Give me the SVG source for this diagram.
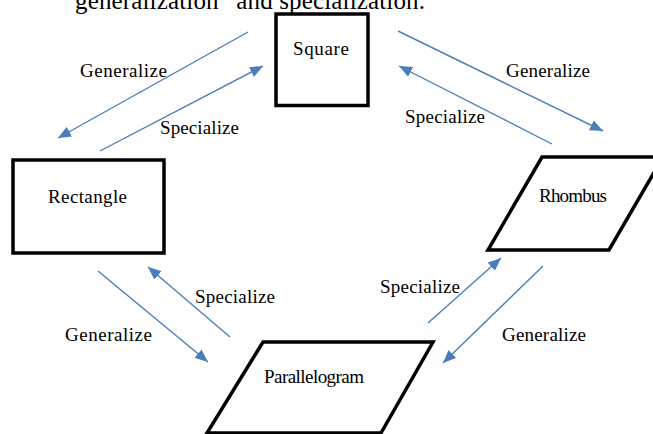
<svg xmlns="http://www.w3.org/2000/svg" width="653" height="434" viewBox="0 0 653 434">
<style>
.node{fill:#fff;stroke:#000;stroke-width:3.5;stroke-linejoin:miter}
text{font-family:'Liberation Serif','Times New Roman',serif;fill:#000}
.conn{stroke:#4A7EBB;stroke-width:1.4;fill:none;marker-end:url(#ah)}
</style>
<defs>
<marker id="ah" markerUnits="userSpaceOnUse" markerWidth="14" markerHeight="11" refX="13" refY="5.5" orient="auto">
<path d="M0,0 L13,5.5 L0,11 z" fill="#4A7EBB"/>
</marker>
</defs>
<rect width="653" height="434" fill="#fff"/>
<text x="75" y="9" style="font-size:25px" textLength="350" lengthAdjust="spacing">generalization” and specialization.</text>
<g id="connectors" font-size="19">
<line class="conn" x1="248" y1="32" x2="58" y2="138"/>
<line class="conn" x1="100" y1="151" x2="263" y2="66"/>
<line class="conn" x1="398" y1="31" x2="603" y2="131"/>
<line class="conn" x1="552" y1="144" x2="399" y2="66"/>
<line class="conn" x1="98" y1="271" x2="208" y2="362"/>
<line class="conn" x1="230" y1="337" x2="148" y2="267"/>
<line class="conn" x1="428" y1="323" x2="501" y2="258"/>
<line class="conn" x1="543" y1="266" x2="443" y2="363"/>
<text x="80" y="77" textLength="87" lengthAdjust="spacing">Generalize</text>
<text x="160" y="134" textLength="79" lengthAdjust="spacing">Specialize</text>
<text x="506" y="77" textLength="84" lengthAdjust="spacing">Generalize</text>
<text x="405" y="123" textLength="80" lengthAdjust="spacing">Specialize</text>
<text x="195" y="303" textLength="80" lengthAdjust="spacing">Specialize</text>
<text x="65" y="341" textLength="87" lengthAdjust="spacing">Generalize</text>
<text x="380" y="293" textLength="80" lengthAdjust="spacing">Specialize</text>
<text x="502" y="341" textLength="84" lengthAdjust="spacing">Generalize</text>
</g>
<g id="square" font-size="19">
<rect class="node" x="276" y="14" width="92" height="91.5"/>
<text x="293" y="55" textLength="56" lengthAdjust="spacing">Square</text>
</g>
<g id="rectangle" font-size="19">
<rect class="node" x="13" y="160" width="151" height="93"/>
<text x="48" y="203" textLength="79" lengthAdjust="spacing">Rectangle</text>
</g>
<g id="rhombus" font-size="19">
<polygon class="node" points="542,157 663,157 609,250 488,250"/>
<text x="539" y="202" textLength="68" lengthAdjust="spacing">Rhombus</text>
</g>
<g id="parallelogram" font-size="19">
<polygon class="node" points="263,342 433,342 381,433 207,433"/>
<text x="264" y="383" textLength="100" lengthAdjust="spacing">Parallelogram</text>
</g>
</svg>
